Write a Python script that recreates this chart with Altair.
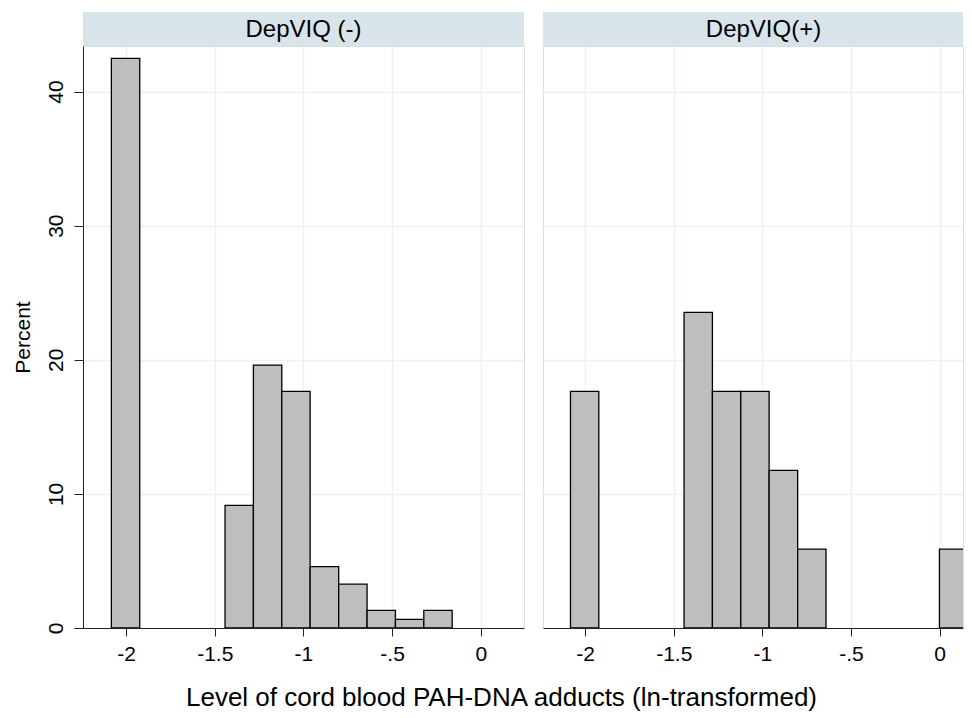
import altair as alt
import pandas as pd

# ---- data ----
panel_titles = ["DepVIQ (-)", "DepVIQ(+)"]

left_bin_lo = [-2.083, -1.442, -1.282, -1.122, -0.962, -0.801, -0.641, -0.481, -0.321]
left_bin_hi = [-1.923, -1.282, -1.122, -0.962, -0.801, -0.641, -0.481, -0.321, -0.161]
left_pct = [42.48, 9.15, 19.61, 17.65, 4.58, 3.27, 1.31, 0.65, 1.31]

right_bin_lo = [-2.083, -1.442, -1.282, -1.122, -0.962, -0.801, -0.001]
right_bin_hi = [-1.923, -1.282, -1.122, -0.962, -0.801, -0.641, 0.160]
right_pct = [17.65, 23.53, 17.65, 17.65, 11.76, 5.88, 5.88]

x_tick_values = [-2, -1.5, -1, -0.5, 0]
x_tick_labels = ["-2", "-1.5", "-1", "-.5", "0"]
y_tick_values = [0, 10, 20, 30, 40]

x_title = "Level of cord blood PAH-DNA adducts (ln-transformed)"
y_title = "Percent"

FONT = "Liberation Sans"
GRID = "#eaf2f3"
HEADER = "#d9e4ea"
BAR = "#bebebe"

label_expr = " : ".join(
    [f"datum.value == {v} ? '{l}'" for v, l in zip(x_tick_values, x_tick_labels)]
) + " : datum.label"


def panel(lo, hi, pct, title, width, xdom, show_y):
    df = pd.DataFrame({"lo": lo, "hi": hi, "pct": pct})
    xaxis = alt.Axis(
        values=x_tick_values, labelExpr=label_expr, title=None,
        tickSize=8, tickColor="#222", domainColor="#222", tickWidth=1, domainWidth=1,
        labelFontSize=21, labelColor="black", labelPadding=7, labelFont=FONT,
        grid=True, gridColor=GRID, gridWidth=1.5,
    )
    if show_y:
        yaxis = alt.Axis(
            values=y_tick_values, title=y_title, titleFontSize=21, titleFont=FONT,
            titleFontWeight="normal", titleColor="black", titlePadding=12,
            labelAngle=270, labelAlign="center", labelBaseline="bottom",
            labelFontSize=21, labelFont=FONT, labelColor="black", labelPadding=8,
            tickSize=9, tickColor="#222", domainColor="#222", tickWidth=1, domainWidth=1,
            grid=True, gridColor=GRID, gridWidth=1.5,
        )
    else:
        yaxis = alt.Axis(
            values=y_tick_values, title=None, labels=False, ticks=False, domain=False,
            grid=True, gridColor=GRID, gridWidth=1.5,
        )
    bars = alt.Chart(df).mark_rect(
        fill=BAR, stroke="black", strokeWidth=1.3, clip=True
    ).encode(
        x=alt.X("lo:Q", scale=alt.Scale(domain=xdom, nice=False, zero=False), axis=xaxis),
        x2="hi:Q",
        y=alt.Y("pct:Q", scale=alt.Scale(domain=[0, 43.4], nice=False, zero=True), axis=yaxis),
        y2=alt.datum(0),
    )
    hdf = pd.DataFrame({"label": [title]})
    head_rect = alt.Chart(hdf).mark_rect(fill=HEADER).encode(
        x=alt.value(0), x2=alt.value(width), y=alt.value(-34), y2=alt.value(0)
    )
    head_text = alt.Chart(hdf).mark_text(
        font=FONT, fontSize=24, color="black", align="center", baseline="middle"
    ).encode(x=alt.value(220.5), y=alt.value(-16), text="label:N")
    return alt.layer(bars, head_rect, head_text).properties(width=width, height=582)


left = panel(left_bin_lo, left_bin_hi, left_pct, panel_titles[0], 441, [-2.243, 0.244], True)
right = panel(right_bin_lo, right_bin_hi, right_pct, panel_titles[1], 420, [-2.238, 0.132], False)

chart = alt.hconcat(left, right, spacing=17).properties(
    title=alt.TitleParams(
        x_title, orient="bottom", anchor="middle", fontSize=26, font=FONT,
        fontWeight="normal", color="black", offset=20, dx=14,
    ),
    padding={"top": 3, "left": 3, "right": 0, "bottom": 0},
).configure_view(stroke=None).configure(background="white")

chart.save("out.html", embed_options={"renderer": "svg", "actions": False})
